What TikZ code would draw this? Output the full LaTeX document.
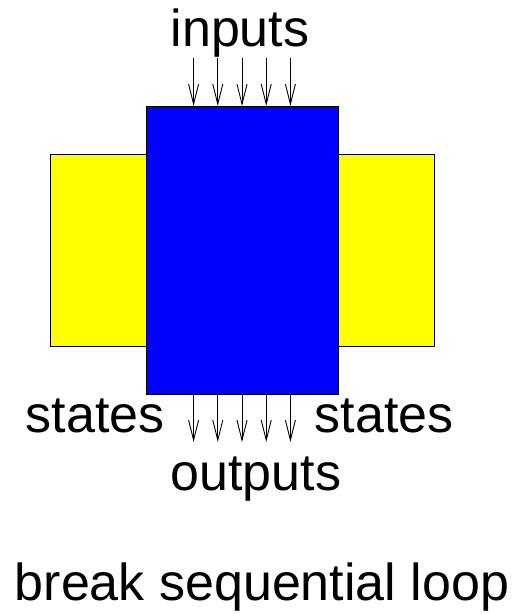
\documentclass[tikz,border=0pt]{standalone}
\usepackage{fontspec}
\setmainfont{Liberation Sans}
\usetikzlibrary{arrows.meta}
\begin{document}
\begin{tikzpicture}[x=1pt,y=-1pt,
  box/.style={draw=black,line width=1pt,inner sep=0pt,outer sep=0pt},
  lbl/.style={inner sep=0pt,anchor=base,font=\fontsize{52}{60}\selectfont},
  arr/.style={line width=0.9pt,-{Straight Barb[length=20pt,width=10pt,line width=0.9pt]}}]
\useasboundingbox (0,0) rectangle (524,614);
\node[box,fill={rgb,255:red,255;green,255;blue,0},minimum width=96pt,minimum height=192pt] (ly) at (98,250) {};
\node[box,fill={rgb,255:red,255;green,255;blue,0},minimum width=96pt,minimum height=192pt] (ry) at (386,250) {};
\node[box,fill={rgb,255:red,0;green,0;blue,255},minimum width=192pt,minimum height=288pt] (blue) at (242,250) {};
\foreach \i/\x in {1/193.6,2/217.8,3/242,4/266.2,5/290.4}{
  \coordinate (in\i) at (\x,58);
  \coordinate (out\i) at (\x,442);
  \draw[arr] (in\i) -- (in\i |- blue.north);
  \draw[arr] (out\i |- blue.south) -- (out\i);
}
\node[lbl] (inputs) at (240,46) {inputs};
\node[lbl] (statesl) at (95,432) {states};
\node[lbl] (statesr) at (384,432) {states};
\node[lbl] (outputs) at (256,490) {outputs};
\node[lbl] (caption) at (262,600) {break sequential loop};
\end{tikzpicture}
\end{document}
